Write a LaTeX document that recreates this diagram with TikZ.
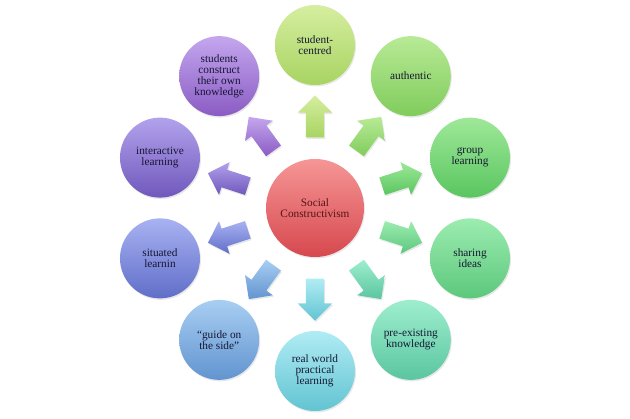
\documentclass[tikz,border=0pt]{standalone}
\usepackage{fontspec}
\setmainfont{Liberation Serif}
\usetikzlibrary{shapes.arrows,shadows,calc}
\definecolor{hubtop}{RGB}{246,150,150}
\definecolor{hubbot}{RGB}{214,72,78}
\definecolor{ring1top}{RGB}{214,238,160}
\definecolor{ring1bot}{RGB}{168,212,98}
\definecolor{ring2top}{RGB}{184,234,150}
\definecolor{ring2bot}{RGB}{128,204,92}
\definecolor{ring3top}{RGB}{158,232,152}
\definecolor{ring3bot}{RGB}{90,198,96}
\definecolor{ring4top}{RGB}{156,236,176}
\definecolor{ring4bot}{RGB}{92,200,124}
\definecolor{ring5top}{RGB}{158,238,206}
\definecolor{ring5bot}{RGB}{90,198,160}
\definecolor{ring6top}{RGB}{176,236,244}
\definecolor{ring6bot}{RGB}{98,196,210}
\definecolor{ring7top}{RGB}{168,206,242}
\definecolor{ring7bot}{RGB}{98,148,208}
\definecolor{ring8top}{RGB}{168,178,242}
\definecolor{ring8bot}{RGB}{96,110,200}
\definecolor{ring9top}{RGB}{178,162,236}
\definecolor{ring9bot}{RGB}{112,88,188}
\definecolor{ring10top}{RGB}{196,166,238}
\definecolor{ring10bot}{RGB}{138,92,196}
\definecolor{topicink}{RGB}{22,22,50}
\definecolor{hubink}{RGB}{84,20,24}
\tikzset{
  topic/.style={circle,minimum size=80pt,inner sep=1pt,align=center,
    font=\fontsize{11.3}{11.2}\selectfont,text=topicink,
    drop shadow={opacity=0.18,shadow xshift=1pt,shadow yshift=-1.5pt}},
  hub/.style={topic,minimum size=98pt,text=hubink},
  spoke/.style={single arrow,minimum height=42pt,inner xsep=0pt,inner ysep=9pt,
    single arrow head extend=8pt,
    drop shadow={opacity=0.18,shadow xshift=1pt,shadow yshift=-1.5pt}}
}
\begin{document}
\begin{tikzpicture}[x=1pt,y=1pt]
  \useasboundingbox (0,0) rectangle (630,419);
  \node[hub,top color=hubtop,bottom color=hubbot] (hub) at (315,211) {Social\\Constructivism};
  \foreach \i/\a/\txt in {1/90/{student-\\centred},2/54/authentic,3/18/{group\\learning},
      4/-18/{sharing\\ideas},5/-54/{pre-existing\\knowledge},6/-90/{real world\\practical\\learning},
      7/-126/{``guide on\\the side''},8/-162/{situated\\learnin},9/162/{interactive\\learning},
      10/126/{students\\construct\\their own\\knowledge}} {
    \node[topic,top color=ring\i top,bottom color=ring\i bot] (topic\i) at ($(hub)+(\a:163)$) {\txt};
    \node[spoke,rotate=\a,top color=ring\i top,bottom color=ring\i bot] (arrow\i) at ($(hub)+(\a:87)$) {};
  }
\end{tikzpicture}
\end{document}
